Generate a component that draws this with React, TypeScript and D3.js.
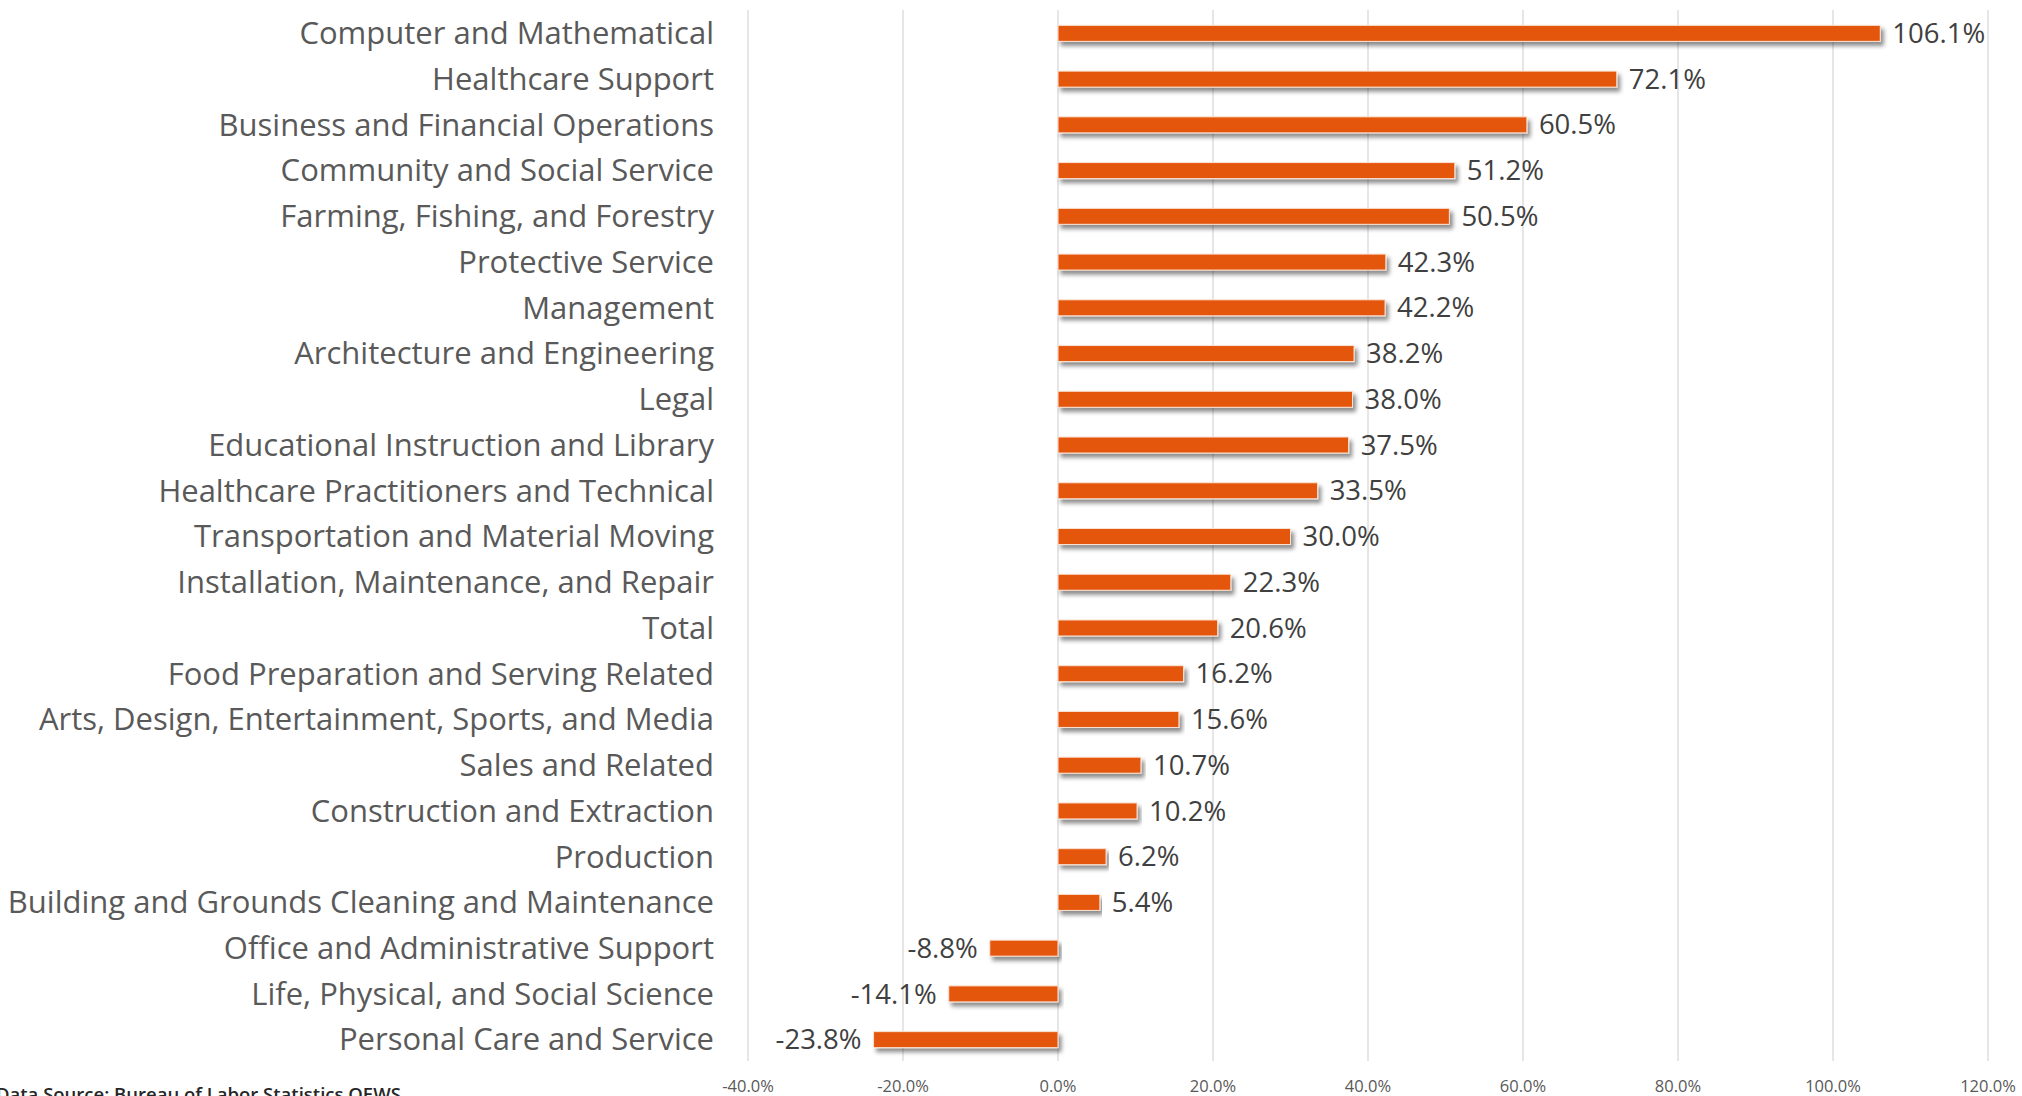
import React from "react";
import * as d3 from "d3";

const categories: string[] = [
  "Computer and Mathematical",
  "Healthcare Support",
  "Business and Financial Operations",
  "Community and Social Service",
  "Farming, Fishing, and Forestry",
  "Protective Service",
  "Management",
  "Architecture and Engineering",
  "Legal",
  "Educational Instruction and Library",
  "Healthcare Practitioners and Technical",
  "Transportation and Material Moving",
  "Installation, Maintenance, and Repair",
  "Total",
  "Food Preparation and Serving Related",
  "Arts, Design, Entertainment, Sports, and Media",
  "Sales and Related",
  "Construction and Extraction",
  "Production",
  "Building and Grounds Cleaning and Maintenance",
  "Office and Administrative Support",
  "Life, Physical, and Social Science",
  "Personal Care and Service",
];

const values: number[] = [
  106.1, 72.1, 60.5, 51.2, 50.5, 42.3, 42.2, 38.2, 38.0, 37.5, 33.5, 30.0,
  22.3, 20.6, 16.2, 15.6, 10.7, 10.2, 6.2, 5.4, -8.8, -14.1, -23.8,
];

const xTicks: number[] = [-40, -20, 0, 20, 40, 60, 80, 100, 120];

const sourceText = "Data Source: Bureau of Labor Statistics OEWS";

const W = 2022;
const H = 1096;
const FONT = "'Open Sans', 'Noto Sans', sans-serif";

export default function App() {
  const x = d3.scaleLinear().domain([-40, 120]).range([748, 1988]);
  const y = d3
    .scaleBand<string>()
    .domain(categories)
    .range([10.5, 1062.5])
    .paddingInner(0.65)
    .paddingOuter(0.325);
  const bw = y.bandwidth();
  const fmt = (v: number) => v.toFixed(1) + "%";

  return (
    <svg
      width={W}
      height={H}
      style={{ position: "absolute", left: 0, top: 0, background: "#fff" }}
    >
      <defs>
        <filter id="shadow" x="-5%" y="-50%" width="110%" height="250%">
          <feDropShadow dx="3" dy="4" stdDeviation="2" floodColor="#000" floodOpacity="0.45" />
        </filter>
      </defs>
      {xTicks.map((t) => (
        <line
          key={"g" + t}
          x1={x(t)}
          x2={x(t)}
          y1={10}
          y2={1061}
          stroke="#d9d9d9"
          strokeWidth={1.3}
        />
      ))}
      {xTicks.map((t) => (
        <text
          key={"t" + t}
          x={x(t)}
          y={1092}
          textAnchor="middle"
          fontFamily={FONT}
          fontSize={16.5}
          fill="#595959"
        >
          {fmt(t)}
        </text>
      ))}
      {categories.map((c, i) => {
        const v = values[i];
        const y0 = y(c)!;
        const cy = y0 + bw / 2;
        const x0 = x(Math.min(0, v));
        const x1 = x(Math.max(0, v));
        return (
          <g key={c}>
            <rect
              x={x0}
              y={y0}
              width={x1 - x0}
              height={bw}
              fill="#E5560F"
              stroke="#fbe3d4"
              strokeWidth={1}
              filter="url(#shadow)"
            />
            <text
              x={714}
              y={cy}
              dy="0.35em"
              textAnchor="end"
              fontFamily={FONT}
              fontSize={31}
              fill="#595959"
            >
              {c}
            </text>
            <text
              x={v >= 0 ? x1 + 12 : x0 - 12}
              y={cy}
              dy="0.35em"
              textAnchor={v >= 0 ? "start" : "end"}
              fontFamily={FONT}
              fontSize={27.5}
              fill="#404040"
            >
              {fmt(v)}
            </text>
          </g>
        );
      })}
      <text
        x={-4}
        y={1101}
        fontFamily={FONT}
        fontSize={18.5}
        fontWeight={600}
        fill="#262626"
      >
        {sourceText}
      </text>
    </svg>
  );
}
